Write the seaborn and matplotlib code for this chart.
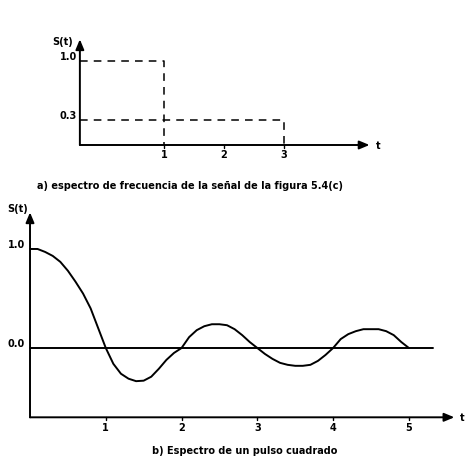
import matplotlib
matplotlib.use("Agg")
import matplotlib.pyplot as plt
import numpy as np
import pandas as pd
import seaborn as sns

# ---------------------------------------------------------------------------
# Data
# ---------------------------------------------------------------------------
# a) line spectrum: amplitude levels and the frequency where each ends
top_levels = [1.0, 0.3]
top_level_labels = ["1.0", "0.3"]
top_ends = [1, 3]
top_ticks = [1, 2, 3]

# b) spectrum of a square pulse (sinc-like curve)
pulse_t = [0.0, 0.1, 0.2, 0.3, 0.4, 0.5, 0.6, 0.7, 0.8, 0.9,
           1.0, 1.1, 1.2, 1.3, 1.4, 1.5, 1.6, 1.7, 1.8, 1.9,
           2.0, 2.1, 2.2, 2.3, 2.4, 2.5, 2.6, 2.7, 2.8, 2.9,
           3.0, 3.1, 3.2, 3.3, 3.4, 3.5, 3.6, 3.7, 3.8, 3.9,
           4.0, 4.1, 4.2, 4.3, 4.4, 4.5, 4.6, 4.7, 4.8, 4.9, 5.0]
pulse_s = [1.0, 1.0, 0.97, 0.93, 0.87, 0.78, 0.67, 0.55, 0.40, 0.20,
           0.0, -0.16, -0.26, -0.31, -0.335, -0.33, -0.29, -0.21, -0.12, -0.05,
           0.0, 0.11, 0.18, 0.22, 0.24, 0.24, 0.23, 0.19, 0.13, 0.06,
           0.0, -0.06, -0.11, -0.15, -0.17, -0.18, -0.18, -0.17, -0.13, -0.07,
           0.0, 0.09, 0.14, 0.17, 0.19, 0.19, 0.19, 0.17, 0.13, 0.06, 0.0]
bottom_ticks = [1, 2, 3, 4, 5]
bottom_levels = [1.0, 0.0]
bottom_level_labels = ["1.0", "0.0"]

caption_a = "a) espectro de frecuencia de la señal de la figura 5.4(c)"
caption_b = "b) Espectro de un pulso cuadrado"

sns.set_style("white")
plt.rcParams["font.family"] = ["Liberation Sans Narrow", "DejaVu Sans"]
plt.rcParams["text.color"] = "black"
FS = 7
LW = 1.4
ARROW = dict(arrowstyle="-|>,head_length=0.6,head_width=0.25", color="black", lw=LW,
             shrinkA=0, shrinkB=0)

fig = plt.figure(figsize=(4.68, 4.64), dpi=100)

# ---------------------------------------------------------------------------
# a) top panel
# ---------------------------------------------------------------------------
ax1 = fig.add_axes([0.128, 0.666, 0.694, 0.269])
ax1.set_xlim(-0.733, 4.683)
ax1.set_ylim(-0.107, 1.381)
x0 = -0.4
for lvl, end, lab in zip(top_levels, top_ends, top_level_labels):
    seg = pd.DataFrame({"t": [x0, end, end], "s": [lvl, lvl, 0.0]})
    sns.lineplot(data=seg, x="t", y="s", ax=ax1, color="black", lw=1.1,
                 linestyle=(0, (5, 4)), sort=False, estimator=None)
    ax1.text(x0 - 0.05, lvl, lab, ha="right", va="bottom", fontsize=FS,
             fontweight="bold")
ax1.annotate("", xy=(4.43, 0), xytext=(x0, 0), arrowprops=ARROW)
ax1.annotate("", xy=(x0, 1.26), xytext=(x0, 0), arrowprops=ARROW)
ax1.text(4.58, 0, "t", ha="center", va="center", fontsize=FS, fontweight="bold")
ax1.text(x0 - 0.12, 1.24, "S(t)", ha="right", va="center", fontsize=FS,
         fontweight="bold")
for tk in top_ticks:
    ax1.plot([tk, tk], [0, -0.03], color="black", lw=1)
    ax1.text(tk, -0.05, str(tk), ha="center", va="top", fontsize=FS,
             fontweight="bold")
ax1.axis("off")

# ---------------------------------------------------------------------------
# b) bottom panel
# ---------------------------------------------------------------------------
ax2 = fig.add_axes([0.0, 0.0733, 1.0, 0.4957])
ax2.set_xlim(-0.396, 5.78)
ax2.set_ylim(-0.818, 1.505)
ybase = -0.7
curve = pd.DataFrame({"t": pulse_t, "s": pulse_s})
sns.lineplot(data=curve, x="t", y="s", ax=ax2, color="black", lw=LW,
             sort=False, estimator=None, solid_joinstyle="round")
ax2.plot([0, 5.32], [0, 0], color="black", lw=LW)
ax2.annotate("", xy=(5.6, ybase), xytext=(0, ybase), arrowprops=ARROW)
ax2.annotate("", xy=(0, 1.37), xytext=(0, ybase), arrowprops=ARROW)
ax2.text(5.7, ybase, "t", ha="center", va="center", fontsize=FS, fontweight="bold")
ax2.text(-0.03, 1.41, "S(t)", ha="right", va="center", fontsize=FS,
         fontweight="bold")
for lvl, lab in zip(bottom_levels, bottom_level_labels):
    ax2.text(-0.07, lvl, lab, ha="right", va="bottom", fontsize=FS,
             fontweight="bold")
for tk in bottom_ticks:
    ax2.plot([tk, tk], [ybase, ybase - 0.03], color="black", lw=1)
    ax2.text(tk, ybase - 0.05, str(tk), ha="center", va="top", fontsize=FS,
             fontweight="bold")
ax2.axis("off")

fig.text(190 / 468, 1 - 186 / 464, caption_a, ha="center", va="center",
         fontsize=FS, fontweight="bold")
fig.text(245 / 468, 1 - 451 / 464, caption_b, ha="center", va="center",
         fontsize=FS, fontweight="bold")

fig.savefig("out.png", dpi=100)
